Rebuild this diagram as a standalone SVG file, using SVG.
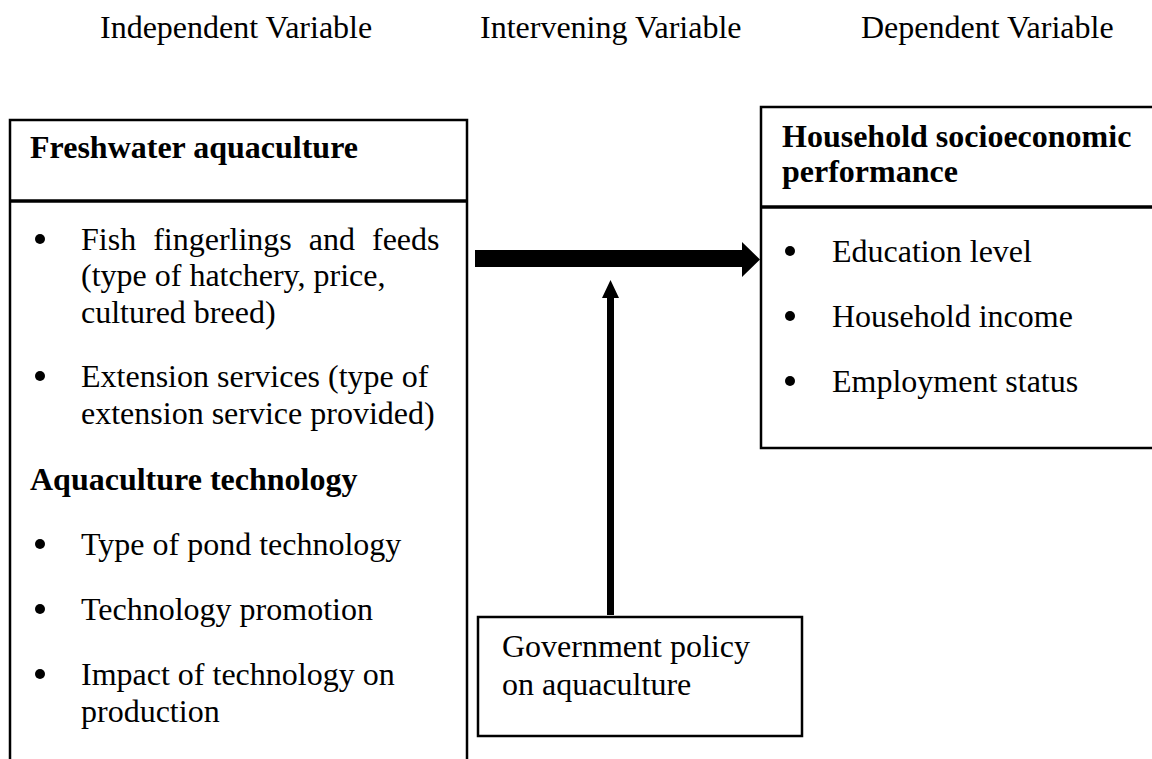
<svg xmlns="http://www.w3.org/2000/svg" width="1152" height="759" viewBox="0 0 1152 759">
<style>
.t{font-family:"Liberation Serif","Times New Roman",serif;font-size:32px;fill:#000}
.b{font-weight:bold}
.box{fill:#fff;stroke:#000;stroke-width:2.5}
.sep{stroke:#000;stroke-width:3.5}
.dot{fill:#000}
</style>
<rect width="1152" height="759" fill="#fff"/>
<g id="headers">
<text class="t" x="100" y="38">Independent Variable</text>
<text class="t" x="480" y="38">Intervening Variable</text>
<text class="t" x="861" y="38">Dependent Variable</text>
</g>
<g id="connectors">
<polygon points="475,250 742,250 742,242 760,259.5 742,277 742,267 475,267" fill="#000"/>
<polygon points="607,615 607,298 602,298 610.5,280 619,298 614,298 614,615" fill="#000"/>
</g>
<g id="independent">
<rect class="box" x="10" y="120" width="457" height="700"/>
<line class="sep" x1="10" y1="201" x2="467" y2="201"/>
<text class="t b" x="30" y="158">Freshwater aquaculture</text>
<circle class="dot" cx="40" cy="239" r="5"/>
<text class="t" x="81" y="250" word-spacing="9">Fish fingerlings and feeds</text>
<text class="t" x="81" y="286">(type of hatchery, price,</text>
<text class="t" x="81" y="323">cultured breed)</text>
<circle class="dot" cx="40" cy="376" r="5"/>
<text class="t" x="81" y="387">Extension services (type of</text>
<text class="t" x="81" y="424">extension service provided)</text>
<text class="t b" x="30" y="490">Aquaculture technology</text>
<circle class="dot" cx="40" cy="544" r="5"/>
<text class="t" x="81" y="555">Type of pond technology</text>
<circle class="dot" cx="40" cy="609" r="5"/>
<text class="t" x="81" y="620">Technology promotion</text>
<circle class="dot" cx="40" cy="674" r="5"/>
<text class="t" x="81" y="685">Impact of technology on</text>
<text class="t" x="81" y="722">production</text>
</g>
<g id="dependent">
<rect class="box" x="761" y="107" width="420" height="341"/>
<line class="sep" x1="761" y1="207" x2="1152" y2="207"/>
<text class="t b" x="782" y="147">Household socioeconomic</text>
<text class="t b" x="782" y="182">performance</text>
<circle class="dot" cx="790" cy="251" r="5"/>
<text class="t" x="832" y="262">Education level</text>
<circle class="dot" cx="790" cy="316" r="5"/>
<text class="t" x="832" y="327">Household income</text>
<circle class="dot" cx="790" cy="381" r="5"/>
<text class="t" x="832" y="392">Employment status</text>
</g>
<g id="intervening">
<rect class="box" x="478" y="617" width="324" height="119"/>
<text class="t" x="502" y="657">Government policy</text>
<text class="t" x="502" y="695">on aquaculture</text>
</g>
</svg>
